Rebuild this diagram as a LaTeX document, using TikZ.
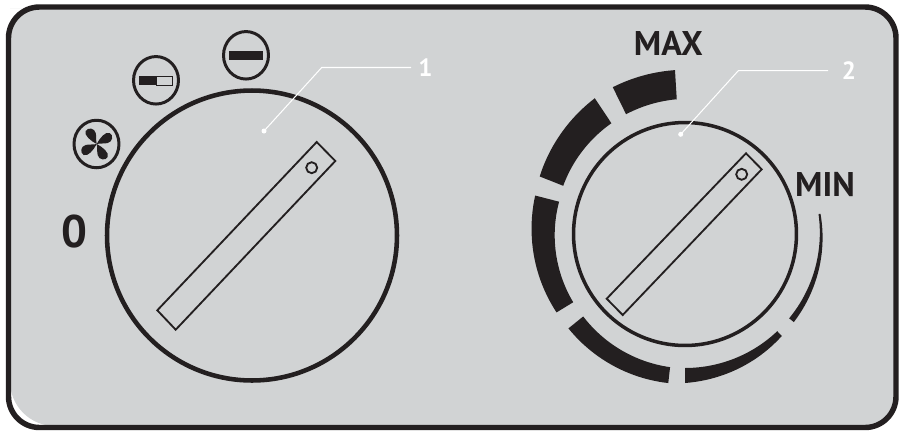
\documentclass[tikz,border=0pt]{standalone}
\usepackage{fontspec}
\setmainfont{PT Sans}
\usepackage{xcolor}
\usetikzlibrary{shapes.geometric, positioning}
\definecolor{panelgray}{HTML}{D1D3D4}
\definecolor{inkblack}{HTML}{231F20}
\tikzset{
	knob/.style={circle, draw=inkblack, inner sep=0pt},
	iconring/.style={ellipse, draw=inkblack, line width=1.7pt, inner sep=0pt, minimum width=0.9cm, minimum height=0.95cm},
	handle/.style={draw=inkblack, line width=1.05pt, line join=miter},
	leader/.style={draw=white, line width=0.6pt},
	leaddot/.style={circle, fill=white, inner sep=0pt, minimum size=0.1cm},
	numlabel/.style={text=white, font=\bfseries\fontsize{14.2}{14.2}\selectfont, inner sep=0pt},
	dialtext/.style={text=inkblack, font=\bfseries\fontsize{19.5}{19.5}\selectfont, inner sep=0pt}
}
\begin{document}
\begin{tikzpicture}[x=0.02cm, y=-0.02cm]
	\useasboundingbox (0,0) rectangle (899,430);
	\fill[white] (0,0) rectangle (899,430);
	% panel
	\fill[panelgray, rounded corners=0.6cm] (40,8) -- (896,8) -- (896,426) -- (200,426) [rounded corners=0.9cm] -- (10,426) [rounded corners=0.6cm] -- (10,8) -- cycle;
	\draw[inkblack, line width=3.1pt, rounded corners=0.62cm] (8.5,7) rectangle (896,427.5);

	% left dial
	\node[knob, line width=2.6pt, minimum size=5.8cm] (knobA) at (252,235.5) {};
	\draw[handle] (316.7,142) -- (335.3,161) -- (175.7,329.7) -- (157.3,310.3) -- cycle;
	\draw[inkblack, line width=1.05pt] (311.7,167.7) circle (5.5);

	% settings of the left dial
	\node[iconring] (iconFan) at (96.5,144) {};
	\node[iconring] (iconHalf) at (156,80.3) {};
	\node[iconring] (iconFull) at (246,55.3) {};
	\foreach \r in {0,90,180,270} {
		\begin{scope}[shift={(96.7,144)}, rotate=\r]
			\fill[inkblack] (0,0) .. controls (-6,-3) and (-13,-9) .. (-11,-13)
			.. controls (-9,-17) and (-2,-16) .. (-1,-11) .. controls (0,-7) and (-1,-4) .. (0,0);
		\end{scope}
	}
	\fill[inkblack] (139.3,76) rectangle (156,85.3);
	\draw[inkblack, line width=0.45pt] (156,76.3) rectangle (172.7,85);
	\fill[inkblack] (229.3,50.7) rectangle (263.3,60);
	\node[dialtext, font=\bfseries\fontsize{26}{26}\selectfont] (zeroLab) at (74,232) {0};

	% right dial
	\node[knob, line width=2pt, minimum size=4.46cm] (knobB) at (685,234) {};
	\draw[handle] (746,153.3) -- (761.7,169.3) -- (622.7,315) -- (606.7,298.7) -- cycle;
	\draw[inkblack, line width=1.05pt] (741.7,174.3) circle (5.5);

	% power scale, it gets thicker towards the top
	\foreach \aa/\ab/\ia/\ib/\oa/\ob in {8.5/-39/135/134/137/140, -46.5/-90/134/134/140.6/149,
		-96.4/-141/134/131/150/150, -148.6/-194.4/131/130/150.5/154.7,
		-201.6/-236.4/131/133/156.3/163, -243.8/-266.5/133.5/135/163.6/164.2} {
		\fill[inkblack] plot[domain=0:1, samples=24]
		({685+(\ia+(\ib-\ia)*\x)*cos(\aa+(\ab-\aa)*\x)}, {234-(\ia+(\ib-\ia)*\x)*sin(\aa+(\ab-\aa)*\x)})
		-- plot[domain=1:0, samples=24]
		({685+(\oa+(\ob-\oa)*\x)*cos(\aa+(\ab-\aa)*\x)}, {234-(\oa+(\ob-\oa)*\x)*sin(\aa+(\ab-\aa)*\x)})
		-- cycle;
	}
	\node[dialtext] (maxLab) at (668.3,43) {MAX};
	\node[dialtext] (minLab) at (825,184.2) {MIN};

	% leaders
	\node[leaddot] (dotA) at (264,131) {};
	\coordinate (bendA) at (321.7,67.5);
	\node[numlabel, minimum width=0.56cm] (labA) at (425.5,67.5) {1};
	\draw[leader] (dotA.center) -- (bendA) -- (labA.west);
	\node[leaddot] (dotB) at (680.7,134.3) {};
	\coordinate (bendB) at (738.3,70.7);
	\node[numlabel, minimum width=0.82cm] (labB) at (849,70.7) {2};
	\draw[leader] (dotB.center) -- (bendB) -- (labB.west);
\end{tikzpicture}
\end{document}
